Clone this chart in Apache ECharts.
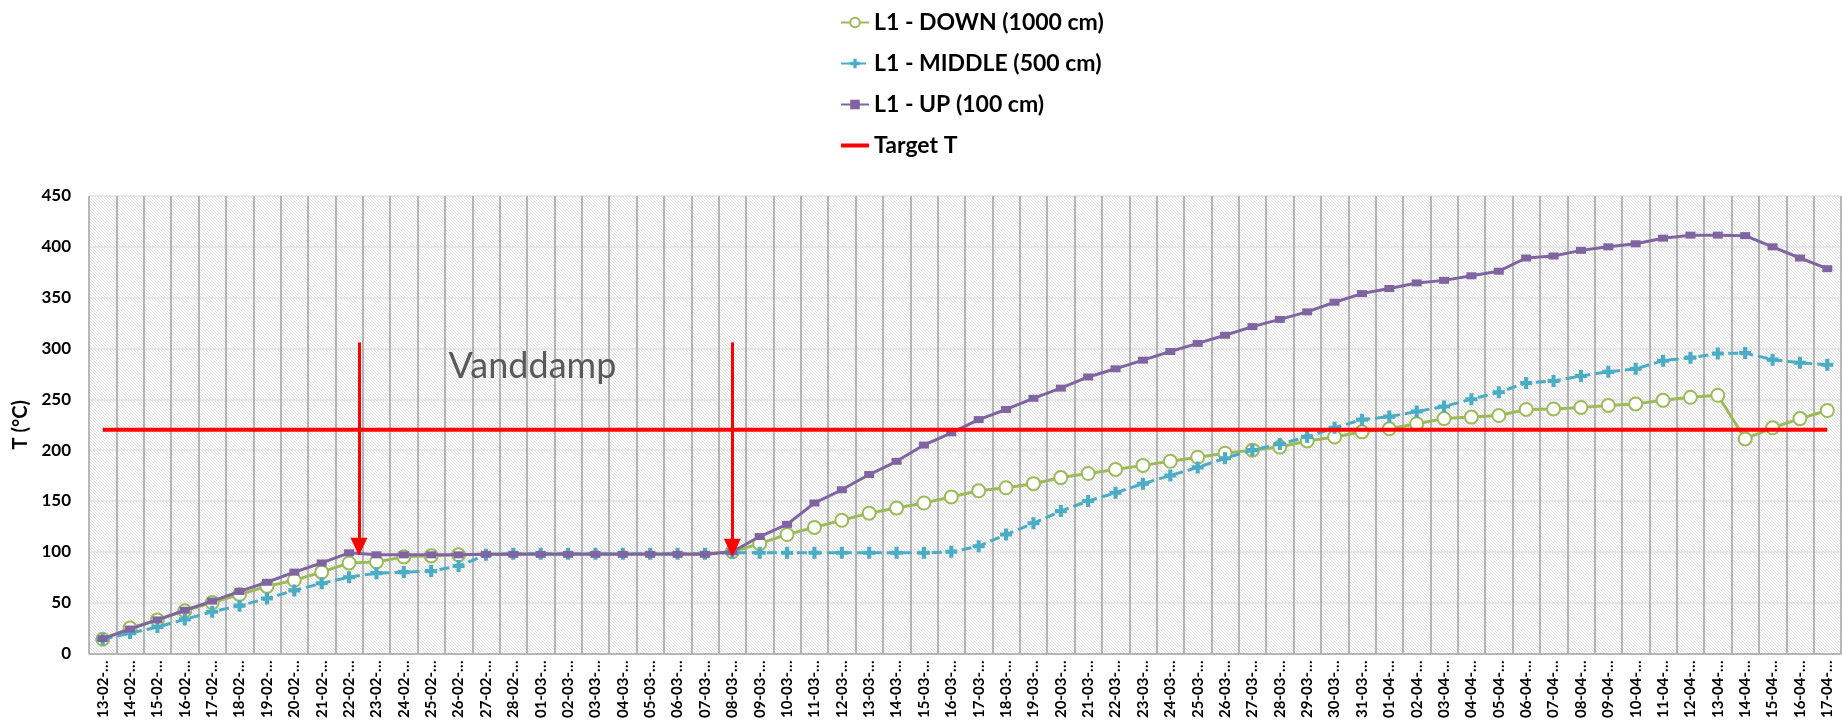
<!DOCTYPE html>
<html>
<head>
<meta charset="utf-8">
<script src="https://cdn.jsdelivr.net/npm/echarts@6/dist/echarts.min.js"></script>
<style>
html,body{margin:0;padding:0;background:#fff;}
#chart{width:1842px;height:721px;}
</style>
</head>
<body>
<div id="chart"></div>
<script>
// ---- data ----
const categories = [
  '13-02','14-02','15-02','16-02','17-02','18-02','19-02','20-02','21-02','22-02','23-02','24-02','25-02','26-02','27-02','28-02',
  '01-03','02-03','03-03','04-03','05-03','06-03','07-03','08-03','09-03','10-03','11-03','12-03','13-03','14-03','15-03','16-03',
  '17-03','18-03','19-03','20-03','21-03','22-03','23-03','24-03','25-03','26-03','27-03','28-03','29-03','30-03','31-03',
  '01-04','02-04','03-04','04-04','05-04','06-04','07-04','08-04','09-04','10-04','11-04','12-04','13-04','14-04','15-04','16-04','17-04'
];
const down = [
  14,25,33,42,50,58,66,72,80,89,90,95,96,97,97.5,98,
  98,98,98,98,98,98,98,100,108,117,124,131,138,143,148,154,
  160,163,167,173,177,181,185,189,193,197,200,203,209,213,218,
  221,226,231,232.5,234,240,240.5,242,244,245.5,249,252,254,211,222,231,239
];
const middle = [
  14,20,26,33.5,41,47,54,62,69,75,79,80,81,86,97,98,
  98,98,98,98,98,98,98,99,99,99,99,99,99,99,99,100,
  105.5,117,128,140,150,158,167,175,183,192,200,206,213,222,230,
  233,238,243,250,257,266,268,273,277,280,288,291,295,295.5,289,286,284
];
const up = [
  14.5,24,33,42.5,51.5,61,70,80,89,99,97,97,97,97,97.5,97.5,
  97.5,97.5,97.5,97.5,97.5,97.5,97.5,100,115,127,148,161,176,189,205,217,
  230,240,251,261,272,280,288.5,297,305,313,321.5,328.6,336,345.5,354,
  359,364.5,367,371.5,376,389,391,396.5,400,403,408.5,411.5,411.5,411,400,389,378.5
];
const targetT = categories.map(() => 220);
const seriesNames = ['L1 - DOWN (1000 cm)','L1 - MIDDLE (500 cm)','L1 - UP (100 cm)','Target T'];
const yTicks = {min: 0, max: 450, interval: 50};
const annotationText = 'Vanddamp';
// arrows: [category position, from value, to value]
const arrows = [[9.36, 306, 105], [23.0, 306, 104]];
const annotationPos = [15.7, 282];
// DOWN markers hidden (covered) on the plateau
const downHiddenMarkers = [14, 22];

// ---- hatch pattern ----
const pc = document.createElement('canvas');
pc.width = 3; pc.height = 3;
const pctx = pc.getContext('2d');
pctx.fillStyle = '#ffffff'; pctx.fillRect(0,0,3,3);
pctx.fillStyle = '#e0e0e0';
for (let i = 0; i < 3; i++) pctx.fillRect(i, i, 1, 1);

const FONT = 'Lato';
const chart = echarts.init(document.getElementById('chart'), null, {renderer: 'canvas'});
const plusPath = 'path://M3.3,0H6.7V3.3H10V6.7H6.7V10H3.3V6.7H0V3.3H3.3Z';

const downData = down.map((v, i) =>
  (i >= downHiddenMarkers[0] && i <= downHiddenMarkers[1]) ? {value: v, symbol: 'none'} : v);

const option = {
  backgroundColor: '#ffffff',
  animation: false,
  textStyle: {fontFamily: FONT},
  legend: {
    data: [
      {name: seriesNames[0]},
      {name: seriesNames[1]},
      {name: seriesNames[2]},
      {name: seriesNames[3], icon: 'path://M0,0H28V4H0Z'}
    ],
    orient: 'vertical',
    left: 835,
    top: 6,
    itemWidth: 28,
    itemHeight: 12,
    itemGap: 18,
    textStyle: {fontFamily: FONT, fontWeight: 'bold', fontSize: 23, color: '#000'}
  },
  grid: {
    left: 89, right: 1, top: 196, bottom: 65,
    show: true,
    borderWidth: 0,
    backgroundColor: {image: pc, repeat: 'repeat'}
  },
  xAxis: [{
    type: 'category',
    data: categories,
    boundaryGap: true,
    axisLine: {show: true, lineStyle: {color: '#a6a6a6', width: 1.5}},
    axisTick: {show: false},
    axisLabel: {
      interval: 0, rotate: 90, margin: 7,
      fontFamily: FONT, fontWeight: 'bold', fontSize: 15, color: '#000',
      formatter: v => v + '-…'
    },
    splitLine: {show: true, interval: 0, lineStyle: {color: '#a0a0a0', width: 1.5}}
  }, {
    type: 'value', min: -0.5, max: 63.5, show: false
  }],
  yAxis: {
    type: 'value',
    min: yTicks.min, max: yTicks.max, interval: yTicks.interval,
    name: 'T (°C)',
    nameLocation: 'middle',
    nameRotate: 90,
    nameGap: 55,
    nameTextStyle: {fontFamily: FONT, fontWeight: 'bold', fontSize: 20, color: '#000'},
    axisLine: {show: false},
    axisTick: {show: false},
    axisLabel: {margin: 18, fontFamily: FONT, fontWeight: 'bold', fontSize: 17, color: '#000'},
    splitLine: {show: true, lineStyle: {color: '#e2e2e2', width: 1.5}}
  },
  series: [
    {
      name: seriesNames[0], type: 'line', data: downData,
      symbol: 'emptyCircle', symbolSize: 13,
      lineStyle: {color: '#9BBB59', width: 3},
      itemStyle: {color: '#9BBB59', borderWidth: 3},
      z: 2
    },
    {
      name: seriesNames[1], type: 'line', data: middle,
      symbol: plusPath, symbolSize: 12,
      lineStyle: {color: '#4BACC6', width: 3, type: [10, 5]},
      itemStyle: {color: '#4BACC6', borderWidth: 0},
      z: 3
    },
    {
      name: seriesNames[2], type: 'line', data: up,
      symbol: 'rect', symbolSize: [10, 7],
      lineStyle: {color: '#8064A2', width: 3},
      itemStyle: {color: '#8064A2'},
      z: 4
    },
    {
      name: seriesNames[3], type: 'line', data: targetT,
      symbol: 'none',
      lineStyle: {color: '#FF0000', width: 4},
      itemStyle: {color: '#FF0000'},
      z: 5
    },
    {
      name: 'annotations', type: 'scatter', xAxisIndex: 1, data: [],
      silent: true, z: 6,
      markLine: {
        silent: true, animation: false,
        symbol: ['none', 'triangle'], symbolSize: [17, 18],
        label: {show: false},
        lineStyle: {color: '#FF0000', width: 3, type: 'solid'},
        data: arrows.map(a => [{coord: [a[0], a[1]]}, {coord: [a[0], a[2]]}])
      },
      markPoint: {
        silent: true, animation: false,
        symbol: 'circle', symbolSize: 0,
        label: {show: true, position: 'inside', formatter: annotationText,
          fontFamily: FONT, fontSize: 36, color: '#595959'},
        data: [{coord: annotationPos}]
      }
    }
  ]
};
chart.setOption(option);
</script>
</body>
</html>
